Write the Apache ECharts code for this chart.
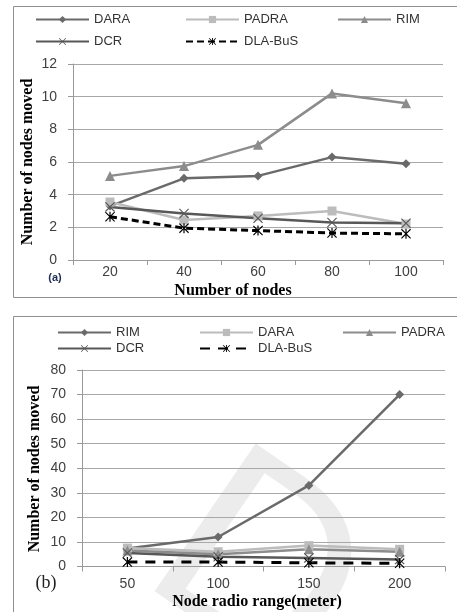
<!DOCTYPE html>
<html>
<head>
<meta charset="utf-8">
<script src="https://cdn.jsdelivr.net/npm/echarts@6/dist/echarts.min.js"></script>
<style>
html,body{margin:0;padding:0;background:#fff;}
#a{position:absolute;left:0;top:0;width:457px;height:305px;}
#b{position:absolute;left:0;top:305px;width:457px;height:307px;}
</style>
</head>
<body>
<div id="a"></div>
<div id="b"></div>
<script>
// ---- Data: chart (a) ----
const catsA = ['20', '40', '60', '80', '100'];
const daraA = [3.3, 5.0, 5.15, 6.3, 5.9];
const padraA = [3.55, 2.45, 2.7, 3.0, 2.2];
const rimA = [5.15, 5.75, 7.05, 10.2, 9.6];
const dcrA = [3.25, 2.85, 2.55, 2.3, 2.25];
const dlaA = [2.65, 1.95, 1.8, 1.65, 1.6];

// ---- Data: chart (b) ----
const catsB = ['50', '100', '150', '200'];
const rimB = [7.3, 12, 33, 70];
const daraB = [7.5, 6, 8.5, 7];
const padraB = [6.5, 5, 7, 6];
const dcrB = [5.5, 4, 3.5, 2.8];
const dlaB = [1.8, 1.8, 1.5, 1.3];

const SANS = 'Liberation Sans';
const X_PATH = 'path://M0,0.8L0.8,0L5,4.2L9.2,0L10,0.8L5.8,5L10,9.2L9.2,10L5,5.8L0.8,10L0,9.2L4.2,5Z';
const STAR_PATH = 'path://M0,0.8L0.8,0L5,4.2L9.2,0L10,0.8L5.8,5L10,9.2L9.2,10L5,5.8L0.8,10L0,9.2L4.2,5Z M4.4,0L5.6,0L5.6,10L4.4,10Z';

const C_DARK = '#6a6a6a', C_MID = '#8c8c8c', C_LIGHT = '#bcbcbc', C_DCR = '#585858';

function mkSeries(name, data, color, symbol, size, dashed, dashArr) {
  return {
    name, type: 'line', data, symbol, symbolSize: size, symbolKeepAspect: true,
    lineStyle: { color, width: dashed ? 3 : 2.5, type: dashed ? dashArr : 'solid' },
    itemStyle: { color },
    emphasis: { disabled: true }, animation: false
  };
}
function legendItem(name, left, top) {
  return {
    data: [name], left, top, padding: 0, itemWidth: 53, itemHeight: 9,
    textStyle: { fontFamily: SANS, fontSize: 13, color: '#333' },
    selectedMode: false
  };
}
function yAxisCfg(max, interval, margin) {
  return {
    type: 'value', min: 0, max, interval,
    axisLine: { show: true, lineStyle: { color: '#9a9a9a' } },
    axisTick: { show: true, length: 5, lineStyle: { color: '#9a9a9a' } },
    axisLabel: { fontFamily: SANS, fontSize: 14, color: '#404040', margin },
    splitLine: { lineStyle: { color: '#a8a8a8', width: 1 } }
  };
}
function xAxisCfg(cats, margin) {
  return {
    type: 'category', data: cats, boundaryGap: true,
    axisLine: { lineStyle: { color: '#9a9a9a' } },
    axisTick: { show: true, length: 5, lineStyle: { color: '#9a9a9a' } },
    axisLabel: { fontFamily: SANS, fontSize: 14, color: '#404040', margin }
  };
}

// ---- Chart (a) ----
const chA = echarts.init(document.getElementById('a'), null, { renderer: 'canvas' });
chA.setOption({
  animation: false,
  grid: { left: 73, right: 14, top: 64, bottom: 45 },
  xAxis: xAxisCfg(catsA, 5),
  yAxis: yAxisCfg(12, 2, 16),
  legend: [
    legendItem('DARA', 35, 13), legendItem('PADRA', 185, 13), legendItem('RIM', 337, 13),
    legendItem('DCR', 35, 35), legendItem('DLA-BuS', 185, 35)
  ],
  series: [
    mkSeries('DARA', daraA, C_DARK, 'diamond', 9),
    mkSeries('PADRA', padraA, C_LIGHT, 'rect', 9),
    mkSeries('RIM', rimA, C_MID, 'triangle', 10),
    mkSeries('DCR', dcrA, C_DCR, X_PATH, 10),
    mkSeries('DLA-BuS', dlaA, '#000', STAR_PATH, 10, true, [7, 4])
  ],
  graphic: [
    { type: 'rect', shape: { x: 13.5, y: 6.5, width: 460, height: 291 }, style: { fill: 'none', stroke: '#8f8f8f', lineWidth: 1 }, z: -10 },
    { type: 'text', x: 233, y: 291, style: { text: 'Number of nodes', font: 'bold 16px "Liberation Serif"', fill: '#000', textAlign: 'center', textVerticalAlign: 'middle' } },
    { type: 'text', x: 28, y: 162, rotation: Math.PI / 2, style: { text: 'Number of nodes moved', font: 'bold 16px "Liberation Serif"', fill: '#000', textAlign: 'center', textVerticalAlign: 'middle' } },
    { type: 'text', x: 55, y: 278, style: { text: '(a)', font: 'bold 11px "Liberation Sans"', fill: '#1f2d52', textAlign: 'center', textVerticalAlign: 'middle' } }
  ]
});

// ---- Chart (b) ----
const chB = echarts.init(document.getElementById('b'), null, { renderer: 'canvas' });
chB.setOption({
  animation: false,
  grid: { left: 82, right: 12, top: 65, bottom: 45.5 },
  xAxis: xAxisCfg(catsB, 11),
  yAxis: yAxisCfg(80, 10, 16),
  legend: [
    legendItem('RIM', 57, 21), legendItem('DARA', 199, 21), legendItem('PADRA', 342, 21),
    legendItem('DCR', 57, 37), legendItem('DLA-BuS', 199, 37)
  ],
  series: [
    mkSeries('RIM', rimB, C_DARK, 'diamond', 9),
    mkSeries('DARA', daraB, C_LIGHT, 'rect', 9),
    mkSeries('PADRA', padraB, C_MID, 'triangle', 10),
    mkSeries('DCR', dcrB, C_DCR, X_PATH, 10),
    mkSeries('DLA-BuS', dlaB, '#000', STAR_PATH, 10, true, [10, 8])
  ],
  graphic: [
    { type: 'rect', shape: { x: 13.5, y: 11.5, width: 460, height: 320 }, style: { fill: 'none', stroke: '#8f8f8f', lineWidth: 1 }, z: -10 },
    { type: 'text', x: 255, y: 268, rotation: -0.6, z: -5, style: { text: 'D', font: '260px "Liberation Sans"', fill: '#ececec', textAlign: 'center', textVerticalAlign: 'middle' } },
    { type: 'text', x: 257, y: 297, style: { text: 'Node radio range(meter)', font: 'bold 16px "Liberation Serif"', fill: '#000', textAlign: 'center', textVerticalAlign: 'middle' } },
    { type: 'text', x: 35, y: 164, rotation: Math.PI / 2, style: { text: 'Number of nodes moved', font: 'bold 16px "Liberation Serif"', fill: '#000', textAlign: 'center', textVerticalAlign: 'middle' } },
    { type: 'text', x: 46, y: 278, style: { text: '(b)', font: '18px "Liberation Serif"', fill: '#222', textAlign: 'center', textVerticalAlign: 'middle' } }
  ]
});
</script>
</body>
</html>
